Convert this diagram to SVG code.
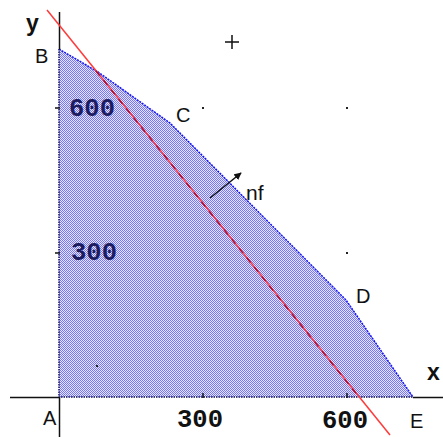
<svg xmlns="http://www.w3.org/2000/svg" width="443" height="437" viewBox="0 0 443 437">
  <defs>
    <pattern id="dither" patternUnits="userSpaceOnUse" width="2" height="2">
      <rect width="2" height="2" fill="#e6e6ff"/>
      <rect width="1" height="1" fill="#7676f6"/>
      <rect x="1" y="1" width="1" height="1" fill="#7676f6"/>
    </pattern>
    <marker id="arrowhead" viewBox="0 0 10 10" refX="9" refY="5" markerWidth="5" markerHeight="5" orient="auto">
      <path d="M0,0 L10,5 L0,10 z" fill="#111"/>
    </marker>
    <style>
      .lbl { font-family: "Liberation Sans", Arial, sans-serif; font-size: 20px; fill: #111; }
      .axl { font-family: "Liberation Sans", Arial, sans-serif; font-size: 23px; font-weight: bold; fill: #111; }
      .tick { font-family: "Liberation Mono", "Courier New", monospace; font-size: 25px; font-weight: bold; }
      .axis { stroke: #111; stroke-width: 1.5; fill: none; }
      .dot { fill: #222; }
    </style>
  </defs>
  <rect width="443" height="437" fill="#ffffff"/>

  <g id="region">
    <polygon points="59,397 59,49 98,72 170,123 346,300 413,397" fill="url(#dither)"/>
    <polyline points="59,49 98,72 170,123 346,300 413,397" fill="none" stroke="#1818e8" stroke-width="1.5" stroke-dasharray="2 1"/>
    <polyline points="59,49 59,397 413,397" fill="none" stroke="#10105a" stroke-width="1.5" stroke-dasharray="1.5 1"/>
  </g>

  <g id="axes">
    <line class="axis" x1="59.5" y1="12" x2="59.5" y2="49"/>
    <line class="axis" x1="59.5" y1="397" x2="59.5" y2="437"/>
    <line class="axis" x1="10" y1="397.5" x2="59" y2="397.5"/>
    <line class="axis" x1="413" y1="397.5" x2="443" y2="397.5"/>
    <line class="axis" x1="55" y1="108" x2="60" y2="108"/>
    <line class="axis" x1="55" y1="253" x2="60" y2="253"/>
    <line class="axis" x1="203" y1="393" x2="203" y2="398"/>
    <line class="axis" x1="347" y1="393" x2="347" y2="398"/>
  </g>

  <g id="objective-line">
    <line x1="47" y1="10" x2="390" y2="435" stroke="#ff3a3a" stroke-width="1.5"/>
    <line x1="96" y1="71" x2="359" y2="397" stroke="#b0102c" stroke-width="1.5" stroke-dasharray="6 6"/>
  </g>

  <g id="connectors">
    <line x1="210" y1="198" x2="241" y2="173" stroke="#111" stroke-width="1.5" marker-end="url(#arrowhead)"/>
  </g>

  <g id="points">
    <rect class="dot" x="202" y="107" width="2" height="2"/>
    <rect class="dot" x="346" y="107" width="2" height="2"/>
    <rect class="dot" x="346" y="252" width="2" height="2"/>
    <rect class="dot" x="96" y="365" width="2" height="2"/>
    <path d="M225,42 H239 M232,35 V49" stroke="#111" stroke-width="1.5" fill="none"/>
  </g>

  <g id="labels">
    <text class="axl" x="26" y="31">y</text>
    <text class="axl" x="427" y="380">x</text>
    <text class="lbl" x="35" y="63">B</text>
    <text class="lbl" x="43" y="425">A</text>
    <text class="lbl" x="176" y="122">C</text>
    <text class="lbl" x="356" y="303">D</text>
    <text class="lbl" x="410" y="428">E</text>
    <text class="lbl" x="246" y="200" style="font-size:21px">nf</text>
    <text class="tick" x="69" y="116" fill="#1c1c5e" textLength="46" lengthAdjust="spacingAndGlyphs">600</text>
    <text class="tick" x="71" y="260" fill="#1c1c5e" textLength="46" lengthAdjust="spacingAndGlyphs">300</text>
    <text class="tick" x="177" y="427" fill="#111" textLength="46" lengthAdjust="spacingAndGlyphs">300</text>
    <text class="tick" x="322" y="428" fill="#111" textLength="46" lengthAdjust="spacingAndGlyphs">600</text>
  </g>
</svg>
